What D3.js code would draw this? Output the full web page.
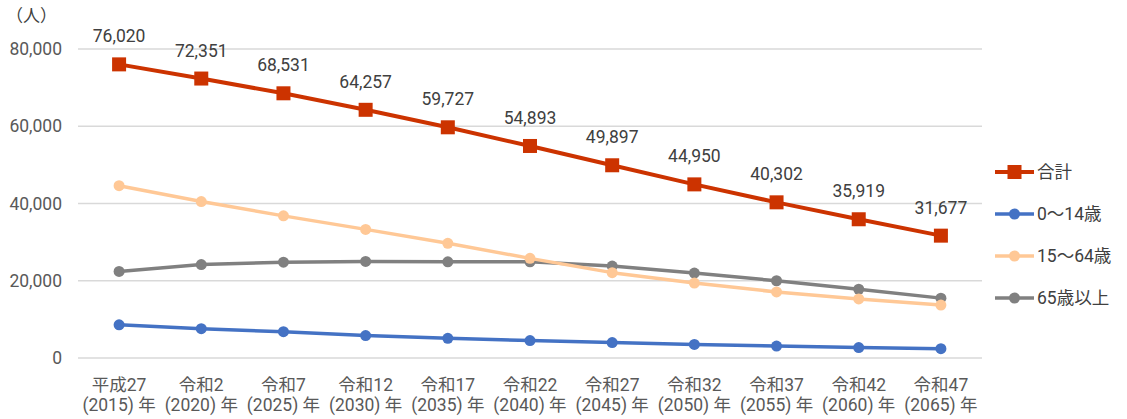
<!DOCTYPE html>
<html>
<head>
<meta charset="utf-8">
<script src="https://cdn.jsdelivr.net/npm/d3@7"></script>
<style>
  body { margin: 0; background: #fff; }
  svg { font-family: Roboto, "Noto Sans CJK JP", sans-serif; }
</style>
</head>
<body>
<svg id="chart" width="1127" height="419"></svg>
<script>
// データ
const eras = ["平成27", "令和2", "令和7", "令和12", "令和17", "令和22", "令和27", "令和32", "令和37", "令和42", "令和47"];
const years = ["2015", "2020", "2025", "2030", "2035", "2040", "2045", "2050", "2055", "2060", "2065"];
const total = [76020, 72351, 68531, 64257, 59727, 54893, 49897, 44950, 40302, 35919, 31677];
const young = [8600, 7600, 6800, 5800, 5100, 4500, 4000, 3500, 3100, 2700, 2400];
const working = [44600, 40500, 36800, 33300, 29700, 25800, 22100, 19400, 17100, 15300, 13700];
const elderly = [22400, 24200, 24800, 25000, 24900, 24900, 23800, 22000, 20000, 17800, 15500];
const yTicks = [0, 20000, 40000, 60000, 80000];

const series = [
    { name: "合計", values: total, color: "#cc3300", shape: "square", width: 4 },
    { name: "0～14歳", values: young, color: "#4472c4", shape: "circle", width: 3.5 },
    { name: "15～64歳", values: working, color: "#ffc896", shape: "circle", width: 3.5 },
    { name: "65歳以上", values: elderly, color: "#808080", shape: "circle", width: 3.5 }
];

const svg = d3.select("#chart");
const plotLeft = 78, plotRight = 982, plotTop = 49, plotBottom = 358;
const fontSize = "17.5px";

const x = d3.scaleBand()
    .domain(years)
    .range([plotLeft, plotRight]);

const y = d3.scaleLinear()
    .domain([0, 80000])
    .range([plotBottom, plotTop]);

const fmt = d3.format(",");

// グリッド
svg.append("g")
    .selectAll("line")
    .data(yTicks)
    .enter()
    .append("line")
    .attr("x1", plotLeft)
    .attr("x2", plotRight)
    .attr("y1", d => y(d))
    .attr("y2", d => y(d))
    .attr("stroke", "#d9d9d9")
    .attr("stroke-width", 1.5);

// Y軸ラベル
svg.append("g")
    .selectAll("text")
    .data(yTicks)
    .enter()
    .append("text")
    .attr("x", 62)
    .attr("y", d => y(d))
    .attr("dy", "0.35em")
    .attr("text-anchor", "end")
    .style("font-size", fontSize)
    .style("fill", "#595959")
    .text(d => fmt(d));

svg.append("text")
    .attr("x", 6)
    .attr("y", 22)
    .style("font-size", "17px")
    .style("fill", "#404040")
    .text("（人）");

// X軸ラベル
const xl = svg.append("g");
years.forEach((yr, i) => {
    const cx = x(yr) + x.bandwidth() / 2;
    xl.append("text")
        .attr("x", cx)
        .attr("y", 391)
        .attr("text-anchor", "middle")
        .style("font-size", fontSize)
        .style("fill", "#595959")
        .text(eras[i]);
    xl.append("text")
        .attr("x", cx)
        .attr("y", 411)
        .attr("text-anchor", "middle")
        .style("font-size", fontSize)
        .style("fill", "#595959")
        .text("(" + yr + ") 年");
});

const line = d3.line()
    .x((d, i) => x(years[i]) + x.bandwidth() / 2)
    .y(d => y(d));

// 線とマーカー（合計を最前面に）
series.slice().reverse().forEach(s => {
    const g = svg.append("g");
    g.append("path")
        .datum(s.values)
        .attr("d", line)
        .attr("fill", "none")
        .attr("stroke", s.color)
        .attr("stroke-width", s.width)
        .attr("stroke-linejoin", "round");
    if (s.shape === "square") {
        g.selectAll("rect")
            .data(s.values)
            .enter()
            .append("rect")
            .attr("x", (d, i) => x(years[i]) + x.bandwidth() / 2 - 7)
            .attr("y", d => y(d) - 7)
            .attr("width", 14)
            .attr("height", 14)
            .attr("fill", s.color);
    } else {
        g.selectAll("circle")
            .data(s.values)
            .enter()
            .append("circle")
            .attr("cx", (d, i) => x(years[i]) + x.bandwidth() / 2)
            .attr("cy", d => y(d))
            .attr("r", 5.5)
            .attr("fill", s.color);
    }
});

// 合計のデータラベル
svg.append("g")
    .selectAll("text")
    .data(total)
    .enter()
    .append("text")
    .attr("x", (d, i) => x(years[i]) + x.bandwidth() / 2)
    .attr("y", d => y(d) - 22)
    .attr("text-anchor", "middle")
    .style("font-size", fontSize)
    .style("fill", "#404040")
    .text(d => fmt(d));

// 凡例
const legend = svg.append("g");
series.forEach((s, i) => {
    const ly = 172 + i * 42;
    legend.append("line")
        .attr("x1", 995)
        .attr("x2", 1034)
        .attr("y1", ly)
        .attr("y2", ly)
        .attr("stroke", s.color)
        .attr("stroke-width", s.width);
    if (s.shape === "square") {
        legend.append("rect")
            .attr("x", 1014.5 - 7)
            .attr("y", ly - 7)
            .attr("width", 14)
            .attr("height", 14)
            .attr("fill", s.color);
    } else {
        legend.append("circle")
            .attr("cx", 1014.5)
            .attr("cy", ly)
            .attr("r", 5.5)
            .attr("fill", s.color);
    }
    legend.append("text")
        .attr("x", 1037)
        .attr("y", ly)
        .attr("dy", "0.35em")
        .style("font-size", fontSize)
        .style("fill", "#404040")
        .text(s.name);
});
</script>
</body>
</html>
